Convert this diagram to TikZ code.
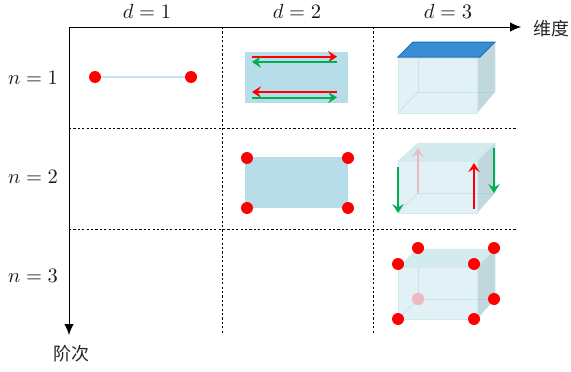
\documentclass[tikz,border=0pt]{standalone}
\usepackage{fontspec}
\usetikzlibrary{arrows.meta}
\newfontfamily\cjk{Noto Sans CJK SC}
\definecolor{rectblue}{HTML}{B7DDE8}
\definecolor{frontface}{HTML}{BFDFEA}
\definecolor{sideface}{HTML}{A3C4CF}
\definecolor{topface}{HTML}{B5DCE3}
\definecolor{cubeedge}{HTML}{D3E8EF}
\definecolor{topblue}{HTML}{3A8DD2}
\definecolor{topedge}{HTML}{0F71C1}
\definecolor{arrgreen}{HTML}{00B050}
\definecolor{palered}{HTML}{EBB9BF}
\newcommand{\bigmath}[1]{\scalebox{2.05}{$#1$}}
\tikzset{
  axis/.style={black,line width=1pt,-{Latex[length=11pt,width=9.5pt]}},
  griddot/.style={black,line width=1pt,dash pattern=on 2.2pt off 2.2pt},
  lab/.style={inner sep=0pt,text=black!90},
  cjklab/.style={font=\fontsize{18}{20}\selectfont\cjk,inner sep=0pt,text=black!85},
  vertex/.style={circle,fill=red,draw=none,minimum size=12pt,inner sep=0pt},
  palevertex/.style={circle,fill=palered,draw=palered!80!white,line width=0.6pt,minimum size=12pt,inner sep=0pt},
  redarr/.style={red,line width=2pt,-{Stealth[length=9pt,width=11.5pt,inset=3.5pt]}},
  greenarr/.style={arrgreen,line width=2pt,-{Stealth[length=9pt,width=11.5pt,inset=3.5pt]}},
  palearr/.style={palered,line width=2pt,-{Stealth[length=9pt,width=11.5pt,inset=3.5pt]}},
  backedge/.style={draw=cubeedge,line width=0.8pt},
  front/.style={fill=frontface,fill opacity=0.45,draw=cubeedge,line width=1pt},
  side/.style={fill=sideface,fill opacity=0.68,draw=cubeedge,line width=0.5pt},
  topf/.style={fill=topface,fill opacity=0.6,draw=cubeedge,line width=0.5pt},
  bluetop/.style={fill=topblue,draw=topedge,line width=1pt},
}
\newcommand{\cubeback}[6]{%
  \draw[backedge] (#1+20,#3) -- (#1+20,#6) -- (#2+18,#6);
  \draw[backedge] (#1+20,#6) -- (#1,#4);
}
\newcommand{\cubefaces}[7]{%
  \path[#7] (#1,#3) -- (#1+20,#5) -- (#2+18,#5) -- (#2,#3) -- cycle;
  \path[side] (#2,#3) -- (#2+18,#5) -- (#2+18,#6) -- (#2,#4) -- cycle;
  \path[front] (#1,#3) rectangle (#2,#4);
}
\begin{document}
\begin{tikzpicture}[x=1pt,y=-1pt]
\useasboundingbox (0,0) rectangle (571,372);

% grid
\coordinate (o) at (69,27);
\coordinate (xend) at (521,27);
\coordinate (yend) at (69,335);
\coordinate (v1t) at (222,27);
\coordinate (v1b) at (222,334);
\coordinate (v2t) at (373,27);
\coordinate (v2b) at (373,334);
\coordinate (h1l) at (69,128);
\coordinate (h1r) at (516,128);
\coordinate (h2l) at (69,229);
\coordinate (h2r) at (516,229);
\draw[griddot] (v1t) -- (v1b);
\draw[griddot] (v2t) -- (v2b);
\draw[griddot] (h1l) -- (h1r);
\draw[griddot] (h2l) -- (h2r);
\draw[axis] (o) -- (xend);
\draw[axis] (o) -- (yend);

% labels
\node[lab] (d1) at (147,11) {\bigmath{d=1}};
\node[lab] (d2) at (297,11) {\bigmath{d=2}};
\node[lab] (d3) at (448,11) {\bigmath{d=3}};
\node[lab] (n1) at (33,78) {\bigmath{n=1}};
\node[lab] (n2) at (33,177) {\bigmath{n=2}};
\node[lab] (n3) at (33,276) {\bigmath{n=3}};
\node[cjklab] (wd) at (551,29) {维度};
\node[cjklab] (jc) at (71,354) {阶次};

% n=1 d=1
\node[vertex] (a1) at (95,77) {};
\node[vertex] (a2) at (191,77) {};
\draw[cubeedge!70!rectblue,line width=1.3pt] (a1) -- (a2);

% n=1 d=2
\fill[rectblue] (245,52) rectangle (348,103);
\coordinate (p1) at (252,56.7);
\coordinate (p2) at (337,56.7);
\coordinate (p3) at (337,62);
\coordinate (p4) at (252,62);
\coordinate (p5) at (337,92);
\coordinate (p6) at (252,92);
\coordinate (p7) at (252,97.5);
\coordinate (p8) at (337,97.5);
\draw[redarr] (p1) -- (p2);
\draw[greenarr] (p3) -- (p4);
\draw[redarr] (p5) -- (p6);
\draw[greenarr] (p7) -- (p8);

% n=1 d=3
\cubeback{398}{477}{58}{113}{42}{92}
\path[side] (477,58) -- (495,42) -- (495,92) -- (477,113) -- cycle;
\path[front] (398,58) rectangle (477,113);
\path[bluetop] (398,57) -- (413,42) -- (495,42) -- (480,57) -- cycle;

% n=2 d=2
\fill[rectblue] (245,157) rectangle (348,208);
\node[vertex] at (247,158) (b1) {};
\node[vertex] at (348,158) (b2) {};
\node[vertex] at (247,208) (b3) {};
\node[vertex] at (348,208) (b4) {};

% n=2 d=3
\cubeback{398}{477}{161}{213}{143}{193}
\cubefaces{398}{477}{161}{213}{143}{193}{topf}
\coordinate (c1) at (418,193);
\coordinate (c2) at (418,148);
\draw[palearr] (c1) -- (c2);
\coordinate (c3) at (398,167);
\coordinate (c4) at (398,213);
\coordinate (c5) at (494,148);
\coordinate (c6) at (494,193);
\coordinate (c7) at (474,209);
\coordinate (c8) at (474,163);
\draw[greenarr] (c3) -- (c4);
\draw[greenarr] (c5) -- (c6);
\draw[redarr] (c7) -- (c8);

% n=3 d=3
\cubeback{398}{477}{267}{319}{249}{299}
\cubefaces{398}{477}{267}{319}{249}{299}{topf}
\node[palevertex] (e8) at (418,299) {};
\node[vertex] (e1) at (398,264) {};
\node[vertex] (e2) at (474,264) {};
\node[vertex] (e3) at (418,248) {};
\node[vertex] (e4) at (494,248) {};
\node[vertex] (e5) at (494,299) {};
\node[vertex] (e6) at (398,319) {};
\node[vertex] (e7) at (474,319) {};
\end{tikzpicture}
\end{document}
